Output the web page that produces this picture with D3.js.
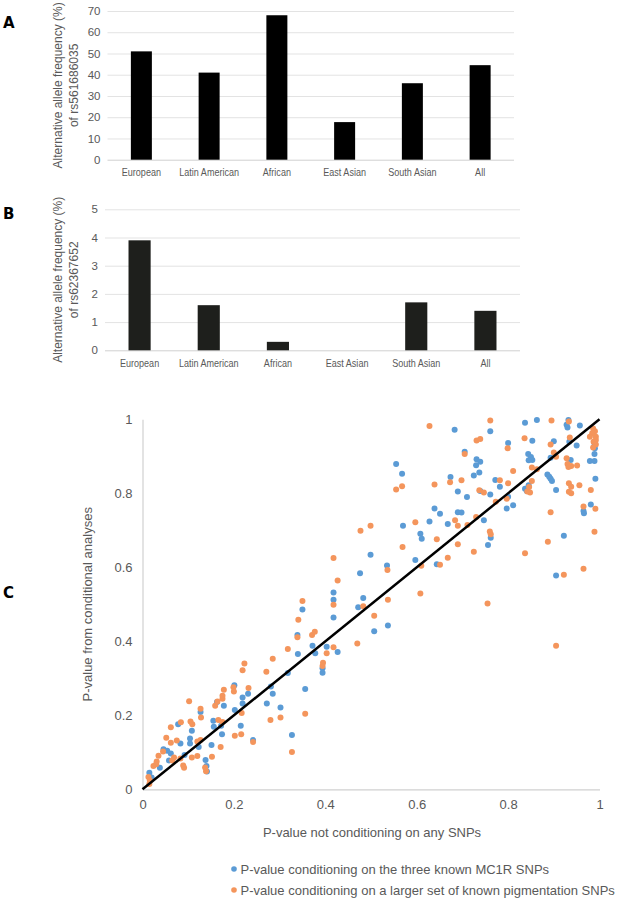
<!DOCTYPE html>
<html>
<head>
<meta charset="utf-8">
<script src="https://cdn.jsdelivr.net/npm/d3@7"></script>
<style>
  html, body { margin: 0; padding: 0; background: #fff; }
  svg { display: block; font-family: "Liberation Sans", Arial, sans-serif; }
</style>
</head>
<body>
<svg id="chart" width="626" height="900"></svg>
<script>
// ---------------- DATA ----------------
const categories = ["European", "Latin American", "African", "East Asian", "South Asian", "All"];
const freqRs561686035 = [51, 41, 68, 17.7, 36, 44.5];
const freqRs62367652 = [3.9, 1.6, 0.3, 0, 1.7, 1.4];
const ticksA = [0, 10, 20, 30, 40, 50, 60, 70];
const ticksB = [0, 1, 2, 3, 4, 5];
const ticksC = [0, 0.2, 0.4, 0.6, 0.8, 1];
const labelA = ["Alternative allele frequency (%)", "of rs561686035"];
const labelB = ["Alternative allele frequency (%)", "of rs62367652"];
const labelCx = "P-value not conditioning on any SNPs";
const labelCy = "P-value from conditional analyses";
const legendLabels = ["P-value conditioning on the three known MC1R SNPs",
                      "P-value conditioning on a larger set of known pigmentation SNPs"];

// [p-value not conditioning, p-value conditioning on three MC1R SNPs]
const mc1rPoints = [
  [0.015,0.045],[0.020,0.032],[0.038,0.058],[0.046,0.108],[0.054,0.104],[0.062,0.097],[0.058,0.078],
  [0.078,0.176],[0.083,0.124],[0.092,0.093],[0.104,0.137],[0.104,0.124],[0.108,0.158],[0.123,0.114],
  [0.127,0.209],[0.138,0.079],[0.140,0.063],[0.141,0.048],[0.155,0.185],[0.156,0.169],[0.151,0.120],
  [0.163,0.236],[0.172,0.172],[0.174,0.149],[0.178,0.226],[0.201,0.281],[0.202,0.214],[0.219,0.248],
  [0.219,0.232],[0.215,0.172],[0.231,0.258],[0.242,0.133],[0.272,0.232],[0.281,0.278],[0.285,0.258],
  [0.302,0.221],[0.318,0.314],[0.327,0.147],[0.340,0.366],[0.339,0.417],[0.350,0.486],[0.356,0.271],
  [0.372,0.388],[0.378,0.368],[0.403,0.385],[0.394,0.327],[0.394,0.315],[0.418,0.464],[0.427,0.371],
  [0.418,0.532],[0.418,0.512],[0.472,0.492],[0.476,0.584],[0.483,0.517],[0.507,0.427],[0.537,0.443],
  [0.535,0.605],[0.499,0.634],[0.555,0.879],[0.568,0.853],[0.570,0.712],[0.597,0.620],[0.608,0.691],
  [0.611,0.677],[0.628,0.724],[0.639,0.759],[0.651,0.745],[0.644,0.608],[0.668,0.717],[0.674,0.844],
  [0.683,0.972],[0.690,0.805],[0.690,0.749],[0.698,0.748],[0.705,0.912],[0.710,0.790],[0.731,0.892],
  [0.739,0.885],[0.730,0.876],[0.737,0.856],[0.725,0.848],[0.747,0.727],[0.762,0.680],[0.756,0.660],
  [0.761,0.968],[0.761,0.797],[0.739,0.806],[0.772,0.836],[0.782,0.818],[0.800,0.936],[0.800,0.791],
  [0.811,0.768],[0.797,0.759],[0.837,0.991],[0.863,0.998],[0.853,0.942],[0.844,0.906],[0.850,0.898],
  [0.853,0.890],[0.845,0.889],[0.845,0.822],[0.837,0.812],[0.841,0.806],[0.886,0.851],[0.890,0.845],
  [0.893,0.839],[0.896,0.833],[0.900,0.941],[0.893,0.896],[0.905,0.809],[0.905,0.578],[0.922,0.685],
  [0.932,0.998],[0.928,0.985],[0.930,0.978],[0.934,0.939],[0.937,0.890],[0.950,0.929],[0.957,0.983],
  [0.965,0.752],[0.966,0.746],[0.981,0.770],[0.989,0.935],[0.990,0.922],[0.989,0.906],[0.979,0.887],
  [0.989,0.887],[0.991,0.839]
];
// [p-value not conditioning, p-value conditioning on larger set of pigmentation SNPs]
const pigmentPoints = [
  [0.013,0.033],[0.016,0.024],[0.015,0.014],[0.024,0.063],[0.030,0.068],[0.031,0.075],[0.035,0.091],
  [0.045,0.102],[0.052,0.139],[0.062,0.126],[0.075,0.132],[0.062,0.168],[0.084,0.181],[0.083,0.083],
  [0.089,0.064],[0.091,0.058],[0.069,0.086],[0.065,0.078],[0.102,0.238],[0.105,0.183],[0.109,0.176],
  [0.120,0.129],[0.127,0.133],[0.120,0.090],[0.108,0.086],[0.127,0.218],[0.128,0.194],[0.152,0.088],
  [0.139,0.049],[0.137,0.059],[0.159,0.226],[0.164,0.237],[0.166,0.187],[0.175,0.245],[0.175,0.253],
  [0.178,0.269],[0.175,0.182],[0.171,0.114],[0.199,0.276],[0.200,0.264],[0.202,0.145],[0.217,0.206],
  [0.216,0.149],[0.223,0.340],[0.219,0.322],[0.232,0.274],[0.242,0.128],[0.271,0.318],[0.285,0.353],
  [0.280,0.187],[0.302,0.194],[0.318,0.379],[0.327,0.101],[0.339,0.411],[0.341,0.458],[0.350,0.509],
  [0.356,0.204],[0.371,0.417],[0.377,0.426],[0.395,0.342],[0.394,0.333],[0.403,0.368],[0.418,0.384],
  [0.418,0.499],[0.427,0.564],[0.418,0.625],[0.470,0.394],[0.477,0.699],[0.499,0.712],[0.483,0.495],
  [0.507,0.469],[0.536,0.593],[0.537,0.512],[0.555,0.810],[0.568,0.819],[0.569,0.655],[0.597,0.722],
  [0.608,0.529],[0.610,0.604],[0.628,0.982],[0.639,0.824],[0.644,0.676],[0.651,0.607],[0.668,0.626],
  [0.673,0.830],[0.684,0.727],[0.690,0.662],[0.690,0.712],[0.698,0.835],[0.705,0.906],[0.711,0.714],
  [0.730,0.736],[0.725,0.642],[0.731,0.943],[0.739,0.947],[0.737,0.808],[0.747,0.802],[0.760,0.697],
  [0.762,0.689],[0.755,0.502],[0.761,0.997],[0.773,0.777],[0.782,0.835],[0.800,0.827],[0.797,0.785],
  [0.799,0.922],[0.811,0.860],[0.836,0.949],[0.837,0.638],[0.852,0.870],[0.863,0.865],[0.852,0.833],
  [0.846,0.817],[0.842,0.805],[0.848,0.802],[0.887,0.669],[0.895,0.997],[0.893,0.932],[0.900,0.910],
  [0.905,0.899],[0.893,0.749],[0.905,0.388],[0.922,0.580],[0.928,0.895],[0.930,0.879],[0.938,0.874],
  [0.932,0.871],[0.933,0.994],[0.935,0.951],[0.933,0.827],[0.938,0.818],[0.933,0.804],[0.938,0.800],
  [0.951,0.875],[0.956,0.822],[0.965,0.764],[0.965,0.596],[0.981,0.809],[0.986,0.975],[0.990,0.968],
  [0.984,0.962],[0.992,0.953],[0.979,0.953],[0.992,0.944],[0.987,0.939],[0.992,0.932],[0.986,0.924],
  [0.991,0.758],[0.989,0.696]
];

// ---------------- STYLE ----------------
const textColor = "#595959";
const gridColor = "#e3e3e3";
const axisColor = "#d0d0d0";
const blue = "#5b9bd5";
const orange = "#f4955c";
const dotR = 3;

const svg = d3.select("#chart");

// ---------------- BAR PANELS ----------------
function barPanel(opts) {
  const g = svg.append("g");
  const x = d3.scaleBand().domain(categories).range([opts.x0, opts.x1]).paddingInner(opts.pad).paddingOuter(opts.pad / 2);
  const y = d3.scaleLinear().domain([0, opts.max]).range([opts.yBottom, opts.yTop]);

  // gridlines
  const yAxis = d3.axisLeft(y).tickValues(opts.ticks).tickSize(-(opts.x1 - opts.x0)).tickPadding(6).tickFormat(d3.format("d"));
  const ga = g.append("g").attr("transform", `translate(${opts.x0},0)`).call(yAxis);
  ga.select(".domain").remove();
  ga.selectAll(".tick line").attr("stroke", d => d === 0 ? axisColor : gridColor).attr("stroke-width", 1);
  ga.selectAll(".tick text").attr("fill", textColor).attr("font-size", 11.5).attr("dx", -1);

  // bars
  const bw = x.bandwidth() * opts.barFrac;
  g.selectAll("rect.bar").data(categories).join("rect")
    .attr("class", "bar")
    .attr("x", (d) => x(d) + (x.bandwidth() - bw) / 2)
    .attr("width", bw)
    .attr("y", (d, i) => y(opts.values[i]))
    .attr("height", (d, i) => y(0) - y(opts.values[i]))
    .attr("fill", opts.color);

  // category labels
  const xAxis = d3.axisBottom(x).tickSize(0).tickPadding(9);
  const gx = g.append("g").attr("transform", `translate(0,${opts.yBottom})`).call(xAxis);
  gx.select(".domain").remove();
  gx.selectAll(".tick text").attr("fill", textColor).attr("font-size", 10.5)
    .each(function() {
      const n = this.getComputedTextLength();
      d3.select(this).attr("textLength", n * 0.86).attr("lengthAdjust", "spacingAndGlyphs");
    });

  // y label (two lines)
  const cy = (opts.yTop + opts.yBottom) / 2;
  const lab = g.append("text")
    .attr("transform", `translate(${opts.labelX},${cy}) rotate(-90)`)
    .attr("text-anchor", "middle").attr("fill", textColor).attr("font-size", 12);
  lab.selectAll("tspan").data(opts.label).join("tspan")
    .attr("x", 0).attr("dy", (d, i) => i === 0 ? 0 : 16).text(d => d);

  // panel letter
  g.append("text").attr("x", 3).attr("y", opts.letterY)
    .attr("font-family", "'DejaVu Sans', sans-serif").attr("font-weight", "bold").attr("font-size", 15)
    .attr("fill", "#000").text(opts.letter);
}

barPanel({ x0: 107.5, x1: 514, pad: 0.69, barFrac: 1, yTop: 11, yBottom: 159.7, max: 70,
  ticks: ticksA, values: freqRs561686035, color: "#000000", label: labelA, labelX: 62,
  letter: "A", letterY: 28 });
barPanel({ x0: 105, x1: 520, pad: 0.68, barFrac: 1, yTop: 209.3, yBottom: 350.3, max: 5,
  ticks: ticksB, values: freqRs62367652, color: "#1e1f1c", label: labelB, labelX: 62,
  letter: "B", letterY: 219 });

// ---------------- SCATTER PANEL ----------------
const cx0 = 142.5, cx1 = 599.5, cyTop = 419.3, cyBot = 789.3;
const xs = d3.scaleLinear().domain([0, 1]).range([cx0, cx1]);
const ys = d3.scaleLinear().domain([0, 1]).range([cyBot, cyTop]);
const gc = svg.append("g");

const fmt = d => d === 0 ? "0" : d === 1 ? "1" : d3.format(".1f")(d);
const gxC = gc.append("g").attr("transform", `translate(0,${cyBot})`)
  .call(d3.axisBottom(xs).tickValues(ticksC).tickSize(0).tickPadding(10).tickFormat(fmt));
gxC.select(".domain").attr("stroke", axisColor).attr("stroke-width", 1.2);
gxC.selectAll(".tick text").attr("fill", textColor).attr("font-size", 13);

const gyC = gc.append("g").attr("transform", `translate(${cx0},0)`)
  .call(d3.axisLeft(ys).tickValues(ticksC).tickSize(0).tickPadding(10).tickFormat(fmt));
gyC.select(".domain").attr("stroke", axisColor).attr("stroke-width", 1.2);
gyC.selectAll(".tick text").attr("fill", textColor).attr("font-size", 13);

gc.append("g").selectAll("circle").data(mc1rPoints).join("circle")
  .attr("cx", d => xs(d[0])).attr("cy", d => ys(d[1])).attr("r", dotR).attr("fill", blue);
gc.append("g").selectAll("circle").data(pigmentPoints).join("circle")
  .attr("cx", d => xs(d[0])).attr("cy", d => ys(d[1])).attr("r", dotR).attr("fill", orange);

// identity line
gc.append("line")
  .attr("x1", xs(0)).attr("y1", ys(0)).attr("x2", xs(1)).attr("y2", ys(1))
  .attr("stroke", "#000").attr("stroke-width", 2.5);

// axis titles
gc.append("text").attr("x", (cx0 + cx1) / 2 + 1).attr("y", 837)
  .attr("text-anchor", "middle").attr("fill", textColor).attr("font-size", 13).text(labelCx);
gc.append("text").attr("transform", `translate(92,${(cyTop + cyBot) / 2}) rotate(-90)`)
  .attr("text-anchor", "middle").attr("fill", textColor).attr("font-size", 13).text(labelCy);

// legend
const legColors = [blue, orange];
const lg = gc.append("g");
legendLabels.forEach((t, i) => {
  const yy = 869 + i * 21;
  lg.append("circle").attr("cx", 234).attr("cy", yy).attr("r", 2.8).attr("fill", legColors[i]);
  lg.append("text").attr("x", 240.5).attr("y", yy + 4.5).attr("fill", textColor).attr("font-size", 13).text(t);
});

// panel letter
svg.append("text").attr("x", 3).attr("y", 598)
  .attr("font-family", "'DejaVu Sans', sans-serif").attr("font-weight", "bold").attr("font-size", 15)
  .attr("fill", "#000").text("C");
</script>
</body>
</html>
